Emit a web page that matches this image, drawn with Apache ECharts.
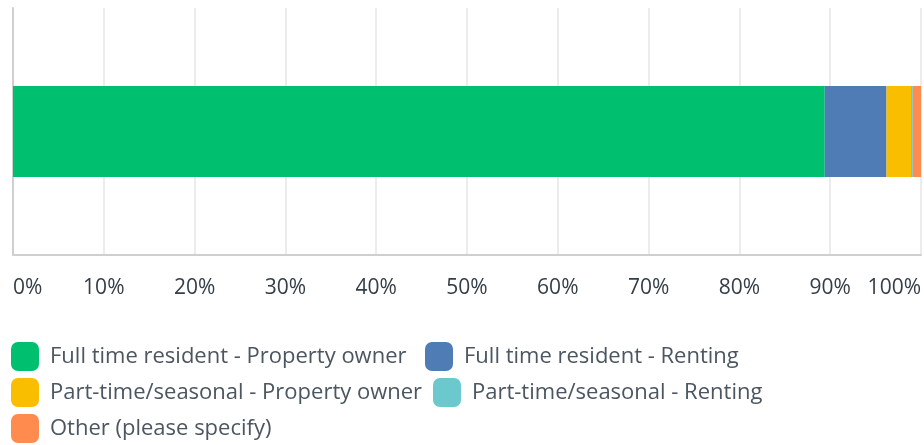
<!DOCTYPE html>
<html>
<head>
<meta charset="utf-8">
<script src="https://cdn.jsdelivr.net/npm/echarts@6/dist/echarts.min.js"></script>
<style>
  html, body { margin: 0; padding: 0; background: #fff; }
  #chart { width: 924px; height: 445px; }
</style>
</head>
<body>
<div id="chart"></div>
<script>
// 数据
const categories = ['Q'];
const seriesNames = [
  'Full time resident - Property owner',
  'Full time resident - Renting',
  'Part-time/seasonal - Property owner',
  'Part-time/seasonal - Renting',
  'Other (please specify)'
];
const seriesValues = [89.4, 6.8, 2.7, 0.2, 0.9];
const colors = ['#00bf6f', '#507cb6', '#f9be00', '#6bc8cd', '#ff8b4f'];

const fontFamily = '"Open Sans", sans-serif';

const chart = echarts.init(document.getElementById('chart'));

// 图例位置（每项单独一个 legend 以便控制位置）
const legendPos = [
  { left: 11, top: 342 },
  { left: 425, top: 342 },
  { left: 11, top: 378 },
  { left: 433, top: 378 },
  { left: 11, top: 414 }
];

const option = {
  animation: false,
  color: colors,
  grid: {
    left: 13,
    right: 3,
    top: 8,
    bottom: 190,
    containLabel: false
  },
  legend: seriesNames.map((name, i) => ({
    data: [name],
    left: legendPos[i].left,
    top: legendPos[i].top,
    itemWidth: 28,
    itemHeight: 29,
    itemGap: 0,
    padding: 0,
    icon: 'roundRect',
    selectedMode: false,
    textStyle: {
      fontFamily: fontFamily,
      fontSize: 22,
      color: '#4b5661',
      padding: [0, 0, 0, 6]
    }
  })),
  xAxis: {
    type: 'value',
    min: 0,
    max: 100,
    interval: 10,
    axisLine: { show: true, lineStyle: { color: '#cfcfcf', width: 2 } },
    axisTick: { show: false },
    splitLine: { lineStyle: { color: '#ececec', width: 2 } },
    axisLabel: {
      margin: 23,
      fontFamily: fontFamily,
      fontSize: 21,
      color: '#333e48',
      alignMinLabel: 'left',
      alignMaxLabel: 'right',
      formatter: v => v + '%'
    }
  },
  yAxis: {
    type: 'category',
    data: categories,
    axisLine: { show: true, lineStyle: { color: '#cfcfcf', width: 2 } },
    axisTick: { show: false },
    axisLabel: { show: false }
  },
  series: seriesNames.map((name, i) => ({
    name: name,
    type: 'bar',
    stack: 'total',
    barWidth: 91,
    data: [seriesValues[i]]
  }))
};

chart.setOption(option);
</script>
</body>
</html>
